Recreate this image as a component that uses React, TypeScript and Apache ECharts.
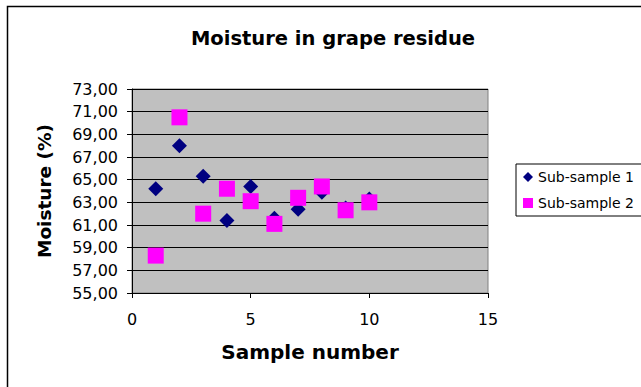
import React, { useEffect, useRef } from "react";
import * as echarts from "echarts";

const sampleNumbers = [1, 2, 3, 4, 5, 6, 7, 8, 9, 10];
const subSample1 = [64.2, 68.0, 65.3, 61.4, 64.4, 61.6, 62.4, 63.9, 62.5, 63.3];
const subSample2 = [58.3, 70.5, 62.0, 64.2, 63.1, 61.1, 63.4, 64.4, 62.3, 63.0];
const seriesNames = ["Sub-sample 1", "Sub-sample 2"];
const titleText = "Moisture in grape residue";
const xAxisName = "Sample number";
const yAxisName = "Moisture (%)";

const FONT = "DejaVu Sans, Liberation Sans, Arial, sans-serif";

export default function App() {
  const ref = useRef<HTMLDivElement>(null);
  useEffect(() => {
    document.body.style.margin = "0";
    if (!ref.current) return;
    const chart = echarts.init(ref.current, null, { renderer: "svg" });
    const pts = (vals: number[]) => sampleNumbers.map((x, i) => [x, vals[i]]);
    chart.setOption({
      animation: false,
      backgroundColor: "#ffffff",
      title: {
        text: titleText,
        left: 328,
        top: 23,
        textAlign: "center",
        textStyle: { fontFamily: FONT, fontSize: 19.5, fontWeight: "bold", color: "#000" },
      },
      graphic: [
        {
          type: "rect",
          shape: { x: 7.5, y: 6.5, width: 800, height: 600 },
          style: { fill: "none", stroke: "#000", lineWidth: 1.5 },
          z: 100,
          silent: true,
        },
      ],
      legend: {
        orient: "vertical",
        left: 516,
        top: 164,
        width: 130,
        backgroundColor: "#fff",
        borderColor: "#000",
        borderWidth: 1,
        borderRadius: 0,
        padding: [6, 14, 6, 7],
        itemGap: 12,
        itemWidth: 10,
        itemHeight: 10,
        textStyle: { fontFamily: FONT, fontSize: 14, color: "#000" },
        data: seriesNames,
      },
      grid: { left: 132, right: 153, top: 89, bottom: 94, show: true, backgroundColor: "#c0c0c0", borderColor: "#808080", borderWidth: 1 },
      xAxis: {
        type: "value",
        min: 0,
        max: 15,
        interval: 5,
        name: xAxisName,
        nameLocation: "middle",
        nameGap: 49,
        nameTextStyle: { fontFamily: FONT, fontSize: 20, fontWeight: "bold", color: "#000" },
        axisLine: { show: true, onZero: false, lineStyle: { color: "#000", width: 1 } },
        axisTick: { show: true, inside: false, length: 5, lineStyle: { color: "#000" } },
        axisLabel: { fontFamily: FONT, fontSize: 16, color: "#000", margin: 18 },
        splitLine: { show: false },
      },
      yAxis: {
        type: "value",
        min: 55,
        max: 73,
        interval: 2,
        name: yAxisName,
        nameLocation: "middle",
        nameGap: 78,
        nameRotate: 90,
        nameTextStyle: { fontFamily: FONT, fontSize: 18.5, fontWeight: "bold", color: "#000" },
        axisLine: { show: true, lineStyle: { color: "#000", width: 1 } },
        axisTick: { show: true, inside: false, length: 5, lineStyle: { color: "#000" } },
        axisLabel: {
          fontFamily: FONT,
          fontSize: 16,
          color: "#000",
          margin: 14,
          formatter: (v: number) => v.toFixed(2).replace(".", ","),
        },
        splitLine: { show: true, lineStyle: { color: "#000", width: 1 } },
      },
      series: [
        {
          name: seriesNames[0],
          type: "scatter",
          symbol: "diamond",
          symbolSize: 15,
          itemStyle: { color: "#000080", opacity: 1 },
          data: pts(subSample1),
          z: 2,
        },
        {
          name: seriesNames[1],
          type: "scatter",
          symbol: "rect",
          symbolSize: 16,
          itemStyle: { color: "#ff00ff", opacity: 1 },
          data: pts(subSample2),
          z: 3,
        },
      ],
    });
    return () => chart.dispose();
  }, []);
  return <div ref={ref} style={{ width: 641, height: 387 }} />;
}
